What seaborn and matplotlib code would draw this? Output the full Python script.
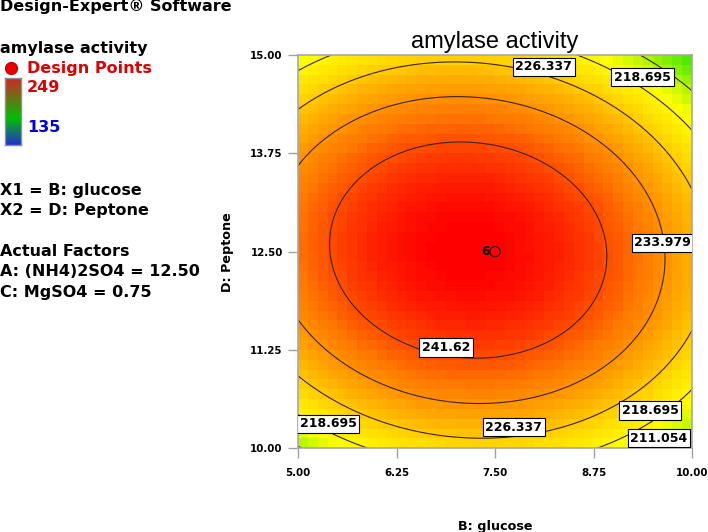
import numpy as np
import matplotlib
matplotlib.use("Agg")
import matplotlib.pyplot as plt
from matplotlib.colors import LinearSegmentedColormap
from matplotlib.lines import Line2D
import seaborn as sns

# fitted response surface (actual units)
peak_activity = 249.15
peak_glucose = 7.16
peak_peptone = 12.52
curv_glucose = 2.44
curv_peptone = 4.0
cross_term = -0.35

glucose_range = [5.0, 10.0]
peptone_range = [10.0, 15.0]
tick_values = [5.00, 6.25, 7.50, 8.75, 10.00]
peptone_ticks = [10.00, 11.25, 12.50, 13.75, 15.00]
contour_levels = [211.054, 218.695, 226.337, 233.979, 241.62]
activity_min, activity_max = 135, 249

design_glucose = [7.5]
design_peptone = [12.5]
design_count = ["6"]

# where the contour labels sit (layout only)
label_spots = [(8.12, 14.85), (9.37, 14.72), (9.63, 12.61), (6.88, 11.28),
               (7.74, 10.27), (5.38, 10.31), (9.47, 10.48), (9.58, 10.13)]


def activity(g, p):
    dg = g - peak_glucose
    dp = p - peak_peptone
    return (peak_activity - curv_glucose * dg ** 2 - curv_peptone * dp ** 2
            + cross_term * dg * dp)


sns.set_theme(style="white")
plt.rcParams["font.family"] = ["DejaVu Sans"]
plt.rcParams.update({"text.color": "black", "axes.labelcolor": "black",
                     "xtick.color": "black", "ytick.color": "black"})

W, H = 708, 532
fig = plt.figure(figsize=(W / 100, H / 100), dpi=100)
ax = fig.add_axes([298 / W, 1 - 448.3 / H, 394 / W, 393.3 / H])

surface_cmap = LinearSegmentedColormap.from_list(
    "de_surface",
    [(0.0, "#0000ff"), (0.60, "#3ce600"), (0.72, "#ffff00"),
     (0.78, "#ffdc00"), (0.84, "#ffaa00"), (0.90, "#ff7800"), (0.96, "#ff3200"),
     (1.0, "#ff0000")])

# blocky colour grid
edges_g = np.linspace(*glucose_range, 41)
edges_p = np.linspace(*peptone_range, 41)
cg = (edges_g[:-1] + edges_g[1:]) / 2
cp = (edges_p[:-1] + edges_p[1:]) / 2
CG, CP = np.meshgrid(cg, cp)
ax.pcolormesh(edges_g, edges_p, activity(CG, CP), cmap=surface_cmap,
              vmin=activity_min, vmax=activity_max, shading="flat")

# smooth contour lines
fg = np.linspace(*glucose_range, 300)
fp = np.linspace(*peptone_range, 300)
FG, FP = np.meshgrid(fg, fp)
cs = ax.contour(FG, FP, activity(FG, FP), levels=contour_levels,
                colors="#3a2418", linewidths=0.8)
labels = ax.clabel(cs, inline=False, manual=label_spots,
                   fmt=lambda v: f"{v:g}", fontsize=9)
for t, spot in zip(labels, label_spots):
    t.set_position(spot)
    t.set_fontweight("bold")
    t.set_color("black")
    t.set_rotation(0)
    t.set_bbox(dict(boxstyle="square,pad=0.22", fc="white", ec="black", lw=0.8))

sns.scatterplot(x=design_glucose, y=design_peptone, ax=ax, s=55,
                facecolor="none", edgecolor="#3a1010", linewidth=0.9,
                legend=False, zorder=5)
for g, p, n in zip(design_glucose, design_peptone, design_count):
    ax.annotate(n, (g, p), xytext=(-4, 0), textcoords="offset points",
                ha="right", va="center", fontsize=9, fontweight="bold")

ax.set_xlim(*glucose_range)
ax.set_ylim(*peptone_range)
ax.set_xticks(tick_values)
ax.set_yticks(peptone_ticks)
ax.set_xticklabels([f"{v:.2f}" for v in tick_values], fontweight="bold")
ax.set_yticklabels([f"{v:.2f}" for v in peptone_ticks], fontweight="bold")
ax.tick_params(axis="x", direction="out", length=7.5, width=1, color="#a0a0a0",
               pad=7, labelsize=7.4, bottom=True)
ax.tick_params(axis="y", direction="out", length=7.5, width=1, color="#a0a0a0",
               pad=3.5, labelsize=7.4, left=True)
for s in ax.spines.values():
    s.set_color("#a8a8a8")
    s.set_linewidth(1.2)
ax.set_xlabel("B: glucose", fontsize=9.2, fontweight="bold", labelpad=30)
ax.set_ylabel("D: Peptone", fontsize=9.2, fontweight="bold", labelpad=12)
ax.set_title("amylase activity", fontsize=17, family=["Liberation Sans"], pad=5)

# left info panel


def ftext(x, y, s, **kw):
    fig.text(x / W, 1 - y / H, s, va="center", ha="left", fontsize=11.5,
             fontweight="bold", **kw)


ftext(0, 7, "Design-Expert® Software")
ftext(0, 48, "amylase activity")
ftext(27, 68, "Design Points", color="#e00000")
fig.add_artist(Line2D([10.5 / W], [1 - 68 / H], marker="o", markersize=8.5,
                      color="#ee0000", markeredgecolor="#c00000",
                      transform=fig.transFigure))
ftext(27, 88, str(activity_max), color="#e00000")
ftext(27, 128, str(activity_min), color="#0000e0")
ftext(0, 190, "X1 = B: glucose")
ftext(0, 210, "X2 = D: Peptone")
ftext(0, 251, "Actual Factors")
ftext(0, 272, "A: (NH4)2SO4 = 12.50")
ftext(0, 293, "C: MgSO4 = 0.75")

bar_cmap = LinearSegmentedColormap.from_list(
    "de_bar", [(0.0, "#2030d0"), (0.4, "#00c000"), (1.0, "#d02828")])
cax = fig.add_axes([5 / W, 1 - 145 / H, 16 / W, 67 / H])
cax.imshow(np.linspace(1, 0, 100)[:, None], aspect="auto", cmap=bar_cmap)
cax.set_xticks([])
cax.set_yticks([])
for s in cax.spines.values():
    s.set_color("#909090")
    s.set_linewidth(1)

fig.savefig("out.png", dpi=100)
